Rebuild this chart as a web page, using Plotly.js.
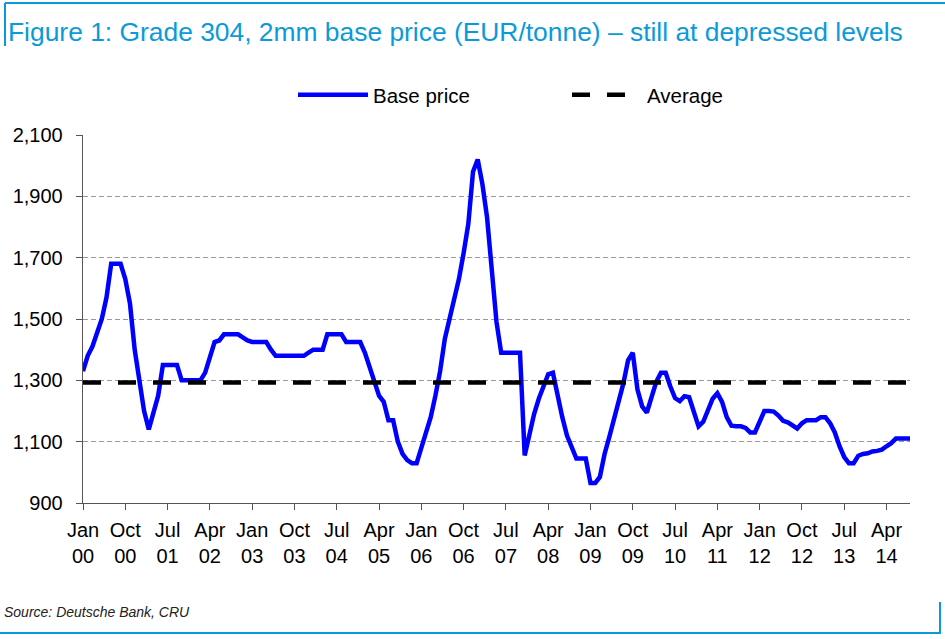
<!DOCTYPE html>
<html>
<head>
<meta charset="utf-8">
<script src="https://cdn.plot.ly/plotly-3.0.1.min.js"></script>
<style>html,body{margin:0;padding:0;background:#fff;}#chart{width:945px;height:639px;}</style>
</head>
<body>
<div id="chart"></div>
<script>
// ---- data ----
const startYear = 2000;
const monthCount = 177; // Jan 2000 .. Sep 2014
const months = [];
for (let i = 0; i < monthCount; i++) {
  const y = startYear + Math.floor(i / 12), m = (i % 12) + 1;
  months.push(y + '-' + (m < 10 ? '0' + m : m));
}
const tickMonths = ['2000-01','2000-10','2001-07','2002-04','2003-01','2003-10','2004-07','2005-04','2006-01','2006-10',
  '2007-07','2008-04','2009-01','2009-10','2010-07','2011-04','2012-01','2012-10','2013-07','2014-04'];
const tickLabels = ['Jan<br>00','Oct<br>00','Jul<br>01','Apr<br>02','Jan<br>03','Oct<br>03','Jul<br>04','Apr<br>05','Jan<br>06','Oct<br>06',
  'Jul<br>07','Apr<br>08','Jan<br>09','Oct<br>09','Jul<br>10','Apr<br>11','Jan<br>12','Oct<br>12','Jul<br>13','Apr<br>14'];
const basePrice = [
  1330,1380,1410,1450,1500,1570,1680,1680,1680,1630,1550,1400,   // 2000
  1300,1200,1140,1190,1250,1350,1350,1350,1350,1300,1300,1300,   // 2001
  1300,1300,1325,1380,1425,1430,1450,1450,1450,1450,1440,1430,   // 2002
  1425,1425,1425,1425,1400,1380,1380,1380,1380,1380,1380,1380,   // 2003
  1390,1400,1400,1400,1450,1450,1450,1450,1425,1425,1425,1425,   // 2004
  1390,1340,1300,1250,1230,1170,1170,1100,1060,1040,1030,1030,   // 2005
  1080,1130,1180,1250,1330,1435,1500,1565,1630,1715,1810,1980,   // 2006
  2020,1940,1830,1660,1490,1390,1390,1390,1390,1390,1055,1130,   // 2007
  1190,1240,1285,1320,1325,1250,1180,1120,1080,1045,1045,1045,   // 2008
  965,965,985,1060,1115,1175,1240,1290,1365,1390,1270,1215,      // 2009
  1195,1240,1295,1325,1325,1280,1242,1232,1248,1245,1200,1150,   // 2010
  1165,1205,1240,1258,1230,1180,1152,1150,1150,1145,1130,1130,   // 2011
  1165,1200,1200,1198,1185,1168,1163,1152,1143,1160,1170,1170,   // 2012
  1170,1180,1180,1160,1130,1085,1050,1030,1030,1054,1060,1062,   // 2013
  1068,1070,1074,1085,1095,1110,1110,1110,1110                   // 2014
];
const averageLevel = 1293;
const averageLine = months.map(() => averageLevel);

// ---- layout helpers ----
const W = 945, H = 639;
const M = {l: 83, r: 35, t: 135, b: 136};
const pw = W - M.l - M.r, ph = H - M.t - M.b;
const px = x => (x - M.l) / pw;
const py = y => (H - M.b - y) / ph;
const blue = '#0a9ad9';
const font = 'Liberation Sans, Arial, sans-serif';

const traces = [
  {x: months, y: basePrice, name: 'Base price', type: 'scatter', mode: 'lines',
   line: {color: '#0000ff', width: 4.5}},
  {x: months, y: averageLine, name: 'Average', type: 'scatter', mode: 'lines',
   line: {color: '#000000', width: 4.5, dash: '18px,17px'}}
];

const layout = {
  width: W, height: H,
  margin: M,
  paper_bgcolor: '#fff', plot_bgcolor: '#fff',
  font: {family: font, size: 20, color: '#000'},
  title: {text: 'Figure 1: Grade 304, 2mm base price (EUR/tonne) – still at depressed levels',
    font: {family: font, size: 26.4, color: blue},
    xref: 'container', x: 8 / W, xanchor: 'left',
    yref: 'container', y: 1 - 32 / H, yanchor: 'middle'},
  showlegend: true,
  legend: {orientation: 'h', x: px(293), xanchor: 'left', y: py(95), yanchor: 'middle',
    font: {family: font, size: 20.5}, entrywidth: 189, entrywidthmode: 'pixels',
    itemwidth: 70, bgcolor: 'rgba(0,0,0,0)'},
  xaxis: {type: 'category', categoryorder: 'array', categoryarray: months,
    range: [0, monthCount - 1], tickmode: 'array', tickvals: tickMonths, ticktext: tickLabels,
    showline: true, linecolor: '#555', linewidth: 1.3, ticks: 'outside', ticklen: 6, tickcolor: '#555',
    ticklabelstandoff: 3,
    showgrid: false, zeroline: false, tickfont: {family: font, size: 20, color: '#000'},
    fixedrange: true},
  yaxis: {range: [900, 2100], tickvals: [900, 1100, 1300, 1500, 1700, 1900, 2100],
    tickformat: ',d', showline: true, linecolor: '#555', linewidth: 1.3,
    ticks: 'outside', ticklen: 6, tickcolor: '#555', ticklabelstandoff: 9,
    showgrid: true, gridcolor: '#999', gridwidth: 1, griddash: '5px,3px',
    zeroline: false, tickfont: {family: font, size: 20, color: '#000'}, fixedrange: true},
  annotations: [
    {text: '<i>Source: Deutsche Bank, CRU</i>', xref: 'paper', yref: 'paper',
     x: px(2), y: py(612), xanchor: 'left', yanchor: 'middle', showarrow: false,
     font: {family: font, size: 14, color: '#222'}}
  ],
  shapes: [
    {type: 'line', xref: 'paper', yref: 'paper', x0: px(5), x1: px(945), y0: py(3), y1: py(3), line: {color: blue, width: 2}},
    {type: 'line', xref: 'paper', yref: 'paper', x0: px(5), x1: px(5), y0: py(3), y1: py(46), line: {color: blue, width: 2}},
    {type: 'line', xref: 'paper', yref: 'paper', x0: px(0), x1: px(941), y0: py(633), y1: py(633), line: {color: blue, width: 2}},
    {type: 'line', xref: 'paper', yref: 'paper', x0: px(940), x1: px(940), y0: py(602), y1: py(633), line: {color: blue, width: 2}}
  ],
  hovermode: false
};

Plotly.newPlot('chart', traces, layout, {displayModeBar: false, staticPlot: true});
</script>
</body>
</html>
